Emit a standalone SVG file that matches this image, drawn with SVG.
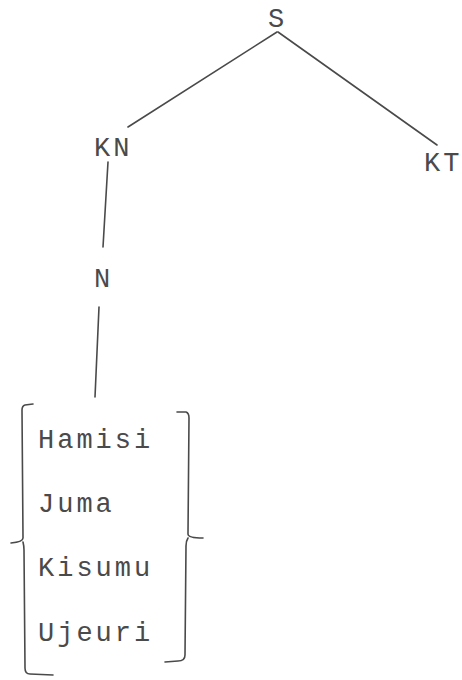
<svg xmlns="http://www.w3.org/2000/svg" width="462" height="680" viewBox="0 0 462 680">
<style>
text{font-family:"Liberation Mono","DejaVu Sans Mono",monospace;font-size:27px;fill:#4a4a4a;letter-spacing:3px}
.e{stroke:#4a4a4a;stroke-width:1.6;fill:none;stroke-linecap:round;stroke-linejoin:round}
</style>
<rect width="462" height="680" fill="#fff"/>
<g id="connectors">
<line class="e" x1="277" y1="32" x2="128" y2="127"/>
<line class="e" x1="278" y1="32" x2="437" y2="145"/>
<line class="e" x1="108" y1="162" x2="103" y2="247"/>
<line class="e" x1="99" y1="307" x2="95" y2="397"/>
</g>
<g id="S"><text x="268" y="27">S</text></g>
<g id="KN"><text x="94" y="156">KN</text></g>
<g id="KT"><text x="424" y="171">KT</text></g>
<g id="N"><text x="94" y="287">N</text></g>
<g id="set">
<path class="e" d="M33,404 L25,405 Q22,406 22,410 L23,538 Q23,542 11,543 M23,542 Q24,546 24,550 L25,668 Q25,674 30,674 L53,675"/>
<path class="e" d="M177,412 L186,412 Q189,413 189,418 L188,534 Q188,538 203,538 M188,538 Q186,541 186,546 L185,655 Q185,661 178,661 L165,662"/>
<text x="38" y="448">Hamisi</text>
<text x="38" y="512">Juma</text>
<text x="38" y="576">Kisumu</text>
<text x="38" y="641">Ujeuri</text>
</g>
</svg>
